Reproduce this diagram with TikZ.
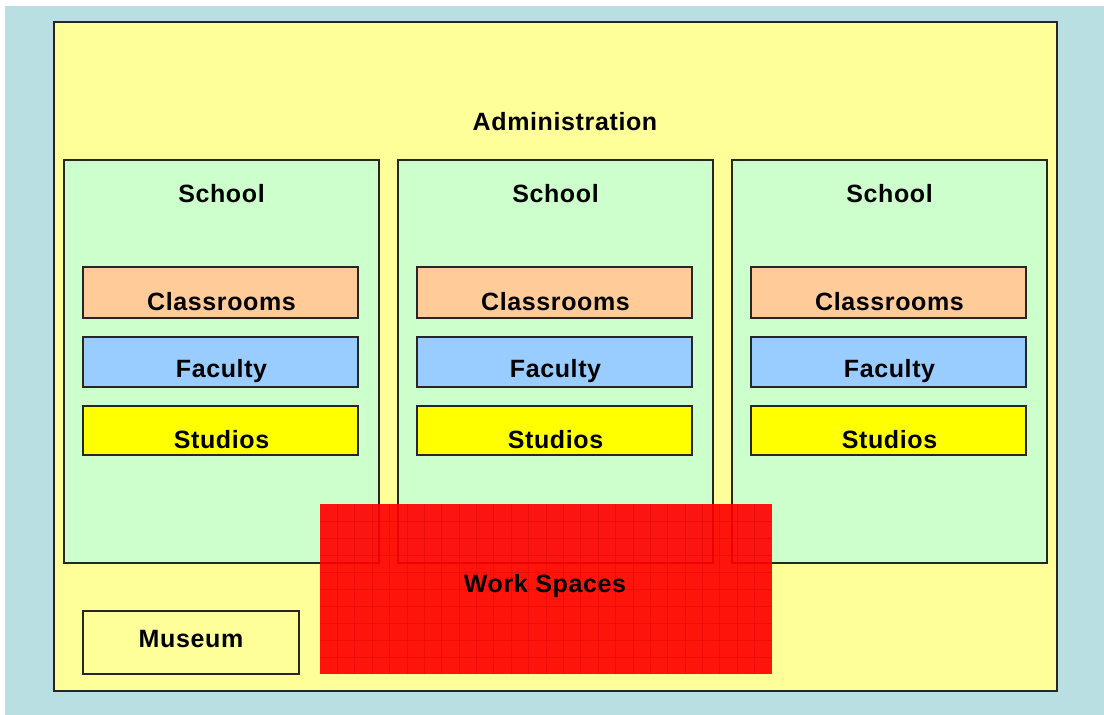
\documentclass[tikz,border=0pt]{standalone}
\usepackage{fontspec}
\setmainfont{Liberation Sans}
\newfontfamily\lblfont[LetterSpace=2.5]{Liberation Sans}
\definecolor{bgblue}{RGB}{186,223,226}
\definecolor{adminyellow}{RGB}{255,255,153}
\definecolor{schoolgreen}{RGB}{204,255,204}
\definecolor{classorange}{RGB}{255,204,153}
\definecolor{facblue}{RGB}{153,204,255}
\definecolor{studyellow}{RGB}{255,255,0}
\begin{document}
\begin{tikzpicture}[x=1pt,y=-1pt,
  lbl/.style={font=\lblfont\fontsize{25}{28}\selectfont\bfseries},
  box/.style={draw=black!85,line width=1.3pt},
  schoolbox/.style={box,fill=schoolgreen},
  classbox/.style={box,fill=classorange},
  facbox/.style={box,fill=facblue},
  studbox/.style={box,fill=studyellow},
]
\useasboundingbox (0,0) rectangle (1104,715);
\fill[white] (0,0) rectangle (1104,715);
\fill[bgblue] (5,6) rectangle (1104,715);
\draw[fill=adminyellow,draw=black!85,line width=2pt] (54,22) rectangle (1057,691);
\node[lbl] (admin) at (565,122) {Administration};

\foreach \i/\x in {1/64,2/398,3/732}{
  \draw[schoolbox] (\x,160) rectangle ++(315,403);
  \node[lbl] (school\i) at (\x+157.5,194) {School};
  \draw[classbox] (\x+19,267) rectangle ++(275,51);
  \node[lbl] (class\i) at (\x+157.5,302) {Classrooms};
  \draw[facbox] (\x+19,337) rectangle ++(275,50);
  \node[lbl] (fac\i) at (\x+157.5,371) {Faculty};
  \draw[studbox] (\x+19,406) rectangle ++(275,49);
  \node[lbl] (stud\i) at (\x+157.5,440) {Studios};
}

\draw[box,fill=adminyellow] (83,611) rectangle (299,674);
\node[lbl] (museum) at (191,639) {Museum};

\fill[red,opacity=0.92] (320,504) rectangle (772,674);
\begin{scope}
\clip (320,504) rectangle (772,674);
\foreach \k in {1,...,25}{
  \draw[red!80!black,opacity=0.3,line width=0.8pt] (320+\k*17.385,504) -- (320+\k*17.385,674);
}
\foreach \k in {1,...,9}{
  \draw[red!80!black,opacity=0.3,line width=0.8pt] (320,504+\k*17) -- (772,504+\k*17);
}
\end{scope}
\node[lbl] (work) at (545,586) {Work Spaces};
\end{tikzpicture}
\end{document}
